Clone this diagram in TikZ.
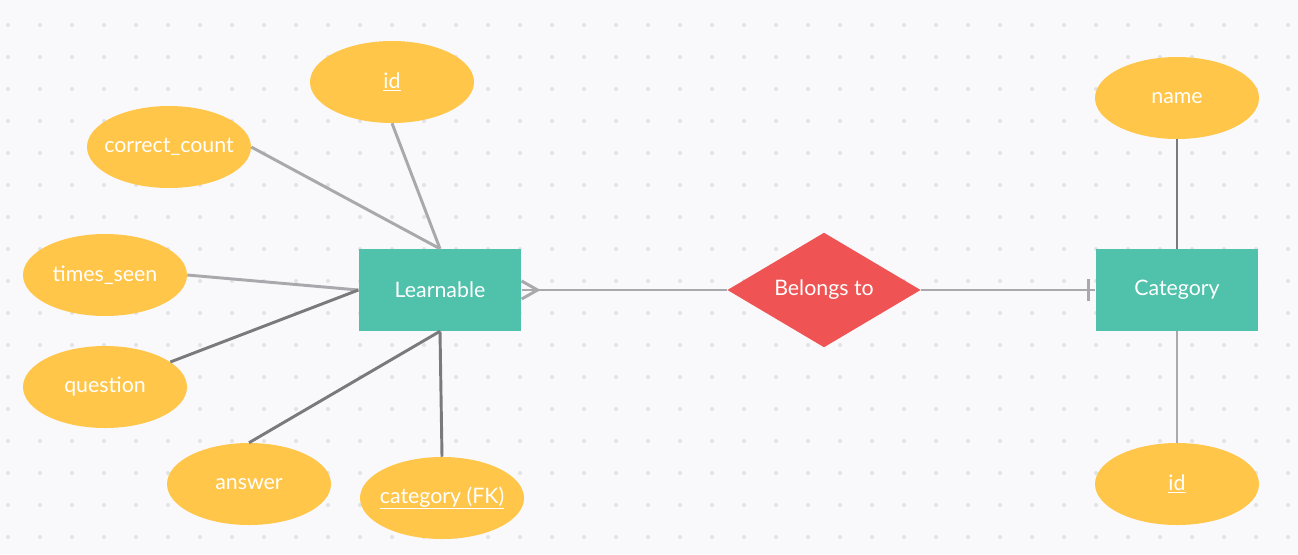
\documentclass[tikz,border=0pt]{standalone}
\usepackage{fontspec}
\setmainfont{Lato}
\usetikzlibrary{shapes.geometric,calc}
\definecolor{bgc}{HTML}{F9F9FB}
\definecolor{dotc}{HTML}{E2E2E6}
\definecolor{attrc}{HTML}{FFC649}
\definecolor{entc}{HTML}{50C2AB}
\definecolor{relc}{HTML}{F05353}
\definecolor{lightl}{HTML}{A9A9AD}
\definecolor{darkl}{HTML}{7A7A7C}
\tikzset{
  lbl/.style={text=white, font=\fontsize{16}{19}\selectfont},
  attr/.style={lbl, ellipse, fill=attrc, minimum width=123pt, minimum height=61.5pt, inner sep=0pt},
  ent/.style={lbl, rectangle, fill=entc, minimum width=122pt, minimum height=61.5pt, inner sep=0pt},
  rel/.style={lbl, diamond, fill=relc, minimum width=145pt, minimum height=86pt, inner sep=0pt},
  lightline/.style={draw=lightl, line width=2.2pt},
  darkline/.style={draw=darkl, line width=2.2pt},
}
\newcommand{\ul}[1]{\underline{#1}}
\newcommand{\zw}[1]{\makebox[0pt]{#1}}
\begin{document}
\begin{tikzpicture}[x=0.75pt,y=-0.75pt]
\useasboundingbox (0,0) rectangle (1298,554);
\fill[bgc] (0,0) rectangle (1298,554);
\foreach \x in {8,40,...,1296} \foreach \y in {25,57,...,553} \fill[dotc] (\x,\y) circle (1.5pt);

\node[ent] (learn) at (440,290) {Learnable};
\node[ent] (cat) at (1177,290) {Category};
\node[rel] (belongs) at (824,290) {\zw{Belongs to}};

\node[attr] (lid) at (392,82) {\zw{\ul{id}}};
\node[attr] (cc) at (169,147) {\zw{correct\_count}};
\node[attr] (ts) at (105,275) {\zw{times\_seen}};
\node[attr] (q) at (105,387) {\zw{question}};
\node[attr] (ans) at (249,484) {\zw{answer}};
\node[attr] (fk) at (442,498) {\zw{\ul{category (FK)}}};
\node[attr] (name) at (1177,98) {\zw{name}};
\node[attr] (cid) at (1177,484) {\zw{\ul{id}}};

\draw[lightline] (lid.south) -- (learn.north);
\draw[lightline] (cc.east) -- (learn.north);
\draw[lightline] (ts.east) -- (learn.west);
\draw[darkline] (q) -- (learn.west);
\draw[darkline] (ans.north) -- (learn.south);
\draw[darkline] (fk.north) -- (learn.south);
\draw[darkline] (name.south) -- (cat.north);
\draw[lightline] (cat.south) -- (cid.north);

\draw[lightline] (learn.east) -- (belongs.west);
\draw[lightline] ($(learn.east)+(0,-9)$) -- ($(learn.east)+(16,0)$) -- ($(learn.east)+(0,9)$);
\draw[lightline] (belongs.east) -- (cat.west);
\draw[lightline] ($(cat.west)+(-7,-11)$) -- ($(cat.west)+(-7,11)$);
\end{tikzpicture}
\end{document}
